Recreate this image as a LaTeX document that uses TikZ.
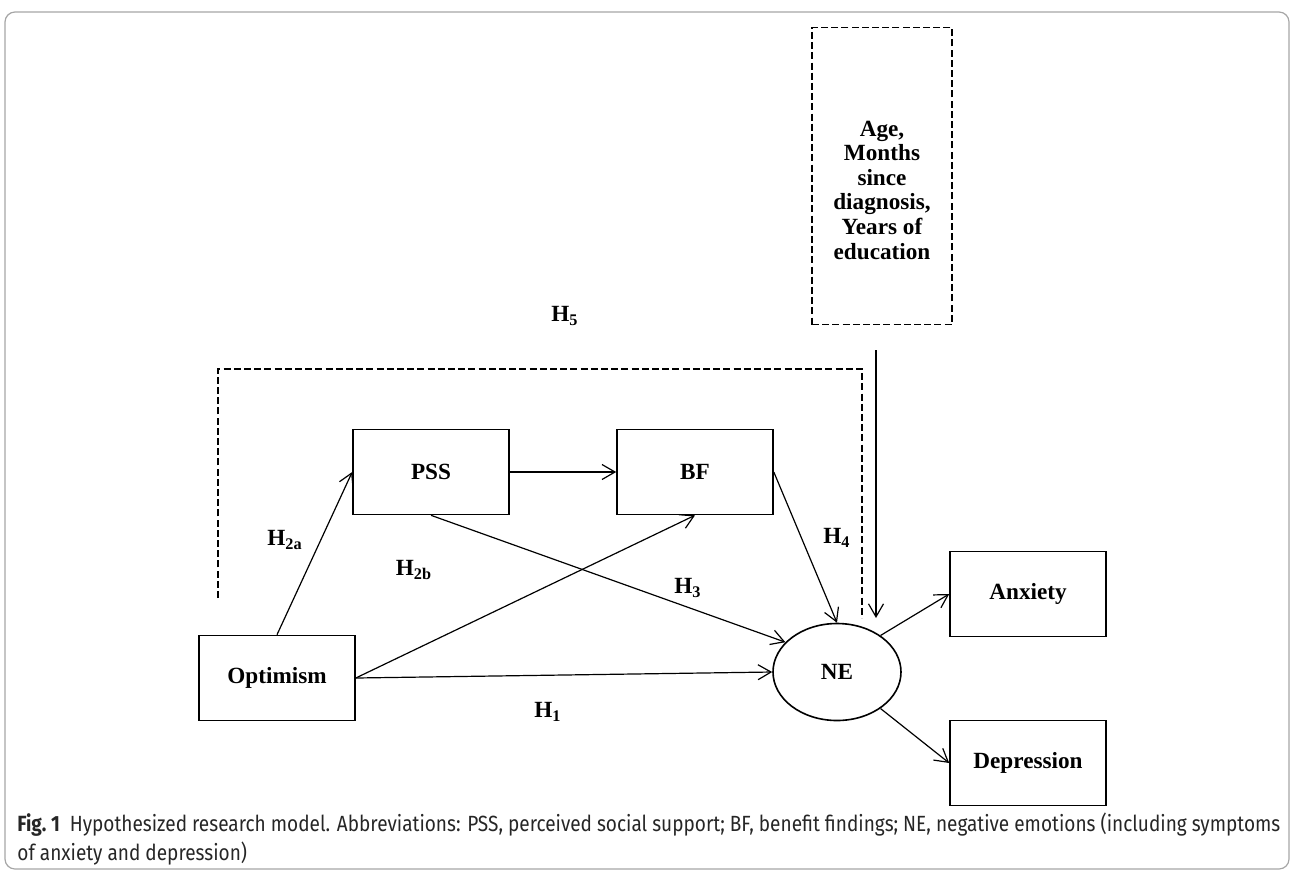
\documentclass[tikz,border=0pt]{standalone}
\usepackage{fontspec}
\setmainfont{Liberation Serif}
\newfontfamily\capfont[FakeStretch=0.865]{Fira Sans}
\usetikzlibrary{arrows.meta,shapes.geometric}

\begin{document}
\begin{tikzpicture}[x=0.5pt,y=-0.5pt,
		box/.style={draw,line width=0.8pt,minimum width=78pt,minimum height=42.5pt,font=\bfseries\fontsize{11.6}{13}\selectfont},
		covbox/.style={draw,dash pattern=on 3.5pt off 1.6pt,line width=0.7pt,minimum width=70pt,minimum height=148.5pt},
		covtext/.style={align=center,font=\bfseries\fontsize{11.6}{12.3}\selectfont},
		latent/.style={draw,ellipse,line width=0.8pt,minimum width=64pt,minimum height=48.5pt,inner sep=0pt,font=\bfseries\fontsize{11.6}{13}\selectfont},
		arr/.style={-{Straight Barb[length=6.5pt,width=7.5pt]},line width=0.6pt},
		hyp/.style={dash pattern=on 3.5pt off 1.6pt,line width=0.6pt},
		lab/.style={font=\bfseries\fontsize{11.6}{13}\selectfont}]
	\useasboundingbox (0,0) rectangle (1295,873);
	\draw [gray!70,line width=0.6pt,rounded corners=5pt] (5,12) rectangle (1289,869);
	% variables
	\node[box] (opt) at (277,678) {Optimism};
	\node[box] (pss) at (431,472) {PSS};
	\node[box] (bf) at (695,472) {BF};
	\node[latent] (ne) at (837,672) {NE};
	\node[box] (anx) at (1028,594) {Anxiety};
	\node[box] (dep) at (1028,763) {Depression};
	\node[covbox] (cov) at (882,176) {};
	\node[covtext] (covlab) at (882,190) {Age,\\Months\\since\\diagnosis,\\Years of\\education};
	% paths
	\draw[arr] (opt.north) -- (pss.west);
	\draw[arr] (pss.east) -- (bf.west);
	\draw[arr] (opt.east) -- (bf.south);
	\draw[arr] (pss.south) -- (ne.150);
	\draw[arr] (opt.east) -- (ne.west);
	\draw[arr] (bf.east) -- (ne.north);
	\draw[arr] (ne.40) -- (anx.west);
	\draw[arr] (ne.-40) -- (dep.west);
	\coordinate (covtop) at (876,350);
	\coordinate (covend) at (876,618);
	\draw[arr] (covtop) -- (covend);
	% H5 dashed path
	\coordinate (hfa) at (218,598);
	\coordinate (hfb) at (218,369);
	\coordinate (hfc) at (862,369);
	\coordinate (hfd) at (862,618);
	\draw[hyp] (hfa) -- (hfb) -- (hfc) -- (hfd);
	% labels
	\node[lab] (lHfive) at (565,316) {H\textsubscript{5}};
	\node[lab] (lHtwoa) at (285,540) {H\textsubscript{2a}};
	\node[lab] (lHtwob) at (414,570) {H\textsubscript{2b}};
	\node[lab] (lHthree) at (688,588) {H\textsubscript{3}};
	\node[lab] (lHfour) at (837,538) {H\textsubscript{4}};
	\node[lab] (lHone) at (548,712) {H\textsubscript{1}};
	% caption
	\node[anchor=north west,align=left,inner sep=0pt,font=\capfont\fontsize{11}{14.5}\selectfont,text=black!85] (cap) at (17,812)
		{\textbf{Fig.~1}\hspace{5pt}Hypothesized research model. Abbreviations: PSS, perceived social support; BF, benefit findings; NE, negative emotions (including symptoms\\of anxiety and depression)};
\end{tikzpicture}
\end{document}
